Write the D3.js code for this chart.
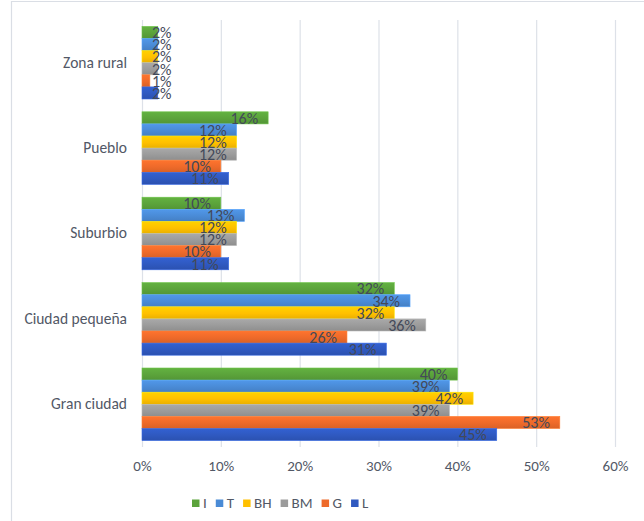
<!DOCTYPE html>
<html>
<head>
<meta charset="utf-8">
<script src="https://cdn.jsdelivr.net/npm/d3@7"></script>
<style>
  html, body { margin: 0; padding: 0; background: #ffffff; }
  svg { display: block; }
  text { font-family: Carlito, Lato, "Liberation Sans", sans-serif; }
</style>
</head>
<body>
<svg id="chart" width="644" height="521"></svg>
<script>
// Categories, top to bottom
const categories = ["Zona rural", "Pueblo", "Suburbio", "Ciudad pequeña", "Gran ciudad"];
// Series, in drawing order inside each group (top to bottom)
const seriesNames = ["I", "T", "BH", "BM", "G", "L"];
const seriesColors = ["#5ba33b", "#4a8bd6", "#ffc000", "#9b9b9b", "#ee6a2a", "#2f59c0"];
// Shares per category, one array per series (in %)
const valuesI  = [2, 16, 10, 32, 40];
const valuesT  = [2, 12, 13, 34, 39];
const valuesBH = [2, 12, 12, 32, 42];
const valuesBM = [2, 12, 12, 36, 39];
const valuesG  = [1, 10, 10, 26, 53];
const valuesL  = [2, 11, 11, 31, 45];
const tickValues = [0, 10, 20, 30, 40, 50, 60];

const seriesValues = [valuesI, valuesT, valuesBH, valuesBM, valuesG, valuesL];
const textColor = "#525866";

const svg = d3.select("#chart");

// Chart frame
svg.append("path")
  .attr("d", "M11.5,530 V1.5 H650")
  .attr("fill", "none")
  .attr("stroke", "#dadee5")
  .attr("stroke-width", 1.2);

const x = d3.scaleLinear().domain([0, 60]).range([142, 615]);
const y0 = d3.scaleBand().domain(categories).range([20, 447])
  .paddingInner(0.15).paddingOuter(0.075);
const y1 = d3.scaleBand().domain(seriesNames).range([0, y0.bandwidth()]);

// Vertical gradients for the bar fills
const defs = svg.append("defs");
seriesNames.forEach((s, i) => {
  const c = d3.color(seriesColors[i]);
  const g = defs.append("linearGradient")
    .attr("id", "grad" + i)
    .attr("x1", 0).attr("y1", 0).attr("x2", 0).attr("y2", 1);
  g.append("stop").attr("offset", "0%").attr("stop-color", c.brighter(0.25));
  g.append("stop").attr("offset", "55%").attr("stop-color", c);
  g.append("stop").attr("offset", "100%").attr("stop-color", c.darker(0.25));
});

// Gridlines
svg.append("g")
  .selectAll("line")
  .data(tickValues)
  .join("line")
  .attr("x1", d => x(d) + 0.5).attr("x2", d => x(d) + 0.5)
  .attr("y1", 20).attr("y2", 447)
  .attr("stroke", "#dde1e8")
  .attr("stroke-width", 1.2);

// X axis tick labels
const xAxis = d3.axisBottom(x)
  .tickValues(tickValues)
  .tickFormat(d => d + "%")
  .tickSize(0)
  .tickPadding(0);
const gx = svg.append("g").attr("transform", "translate(0,460)").call(xAxis);
gx.select(".domain").remove();
gx.selectAll("text")
  .attr("fill", textColor)
  .attr("font-size", 15)
  .attr("dy", "0.71em")
  .style("font-family", "Carlito, Lato, 'Liberation Sans', sans-serif");

// Y axis category labels
const yAxis = d3.axisLeft(y0).tickSize(0).tickPadding(0);
const gy = svg.append("g").attr("transform", "translate(127,0)").call(yAxis);
gy.select(".domain").remove();
gy.selectAll("text")
  .attr("fill", textColor)
  .attr("font-size", 15.5)
  .style("font-family", "Carlito, Lato, 'Liberation Sans', sans-serif");

// Bars and value labels
const rows = [];
categories.forEach((cat, ci) => {
  seriesNames.forEach((s, si) => {
    rows.push({ cat, s, si, v: seriesValues[si][ci] });
  });
});

svg.append("g")
  .selectAll("rect")
  .data(rows)
  .join("rect")
  .attr("x", x(0))
  .attr("y", d => y0(d.cat) + y1(d.s))
  .attr("width", d => x(d.v) - x(0))
  .attr("height", y1.bandwidth())
  .attr("fill", d => `url(#grad${d.si})`)
  .attr("stroke", d => d3.color(seriesColors[d.si]).brighter(0.5))
  .attr("stroke-width", 0.6);

svg.append("g")
  .selectAll("text")
  .data(rows)
  .join("text")
  .attr("y", d => y0(d.cat) + y1(d.s) + y1.bandwidth() / 2)
  .attr("dy", "0.36em")
  .attr("font-size", 16)
  .attr("fill", "#434959")
  .attr("text-anchor", "end")
  .text(d => d.v + "%")
  .each(function (d) {
    const w = this.getComputedTextLength();
    const end = Math.max(x(d.v) - 10, x(0) + 10 + w);
    d3.select(this).attr("x", end);
  });

// Legend
const legend = svg.append("g").attr("transform", "translate(192,503)");
let lx = 0;
seriesNames.forEach((s, i) => {
  legend.append("rect")
    .attr("x", lx).attr("y", -3.5)
    .attr("width", 7.5).attr("height", 7.5)
    .attr("fill", seriesColors[i]);
  const t = legend.append("text")
    .attr("x", lx + 11).attr("y", 0).attr("dy", "0.36em")
    .attr("font-size", 15)
    .attr("fill", textColor)
    .text(s);
  lx += 11 + t.node().getComputedTextLength() + 9;
});
</script>
</body>
</html>
